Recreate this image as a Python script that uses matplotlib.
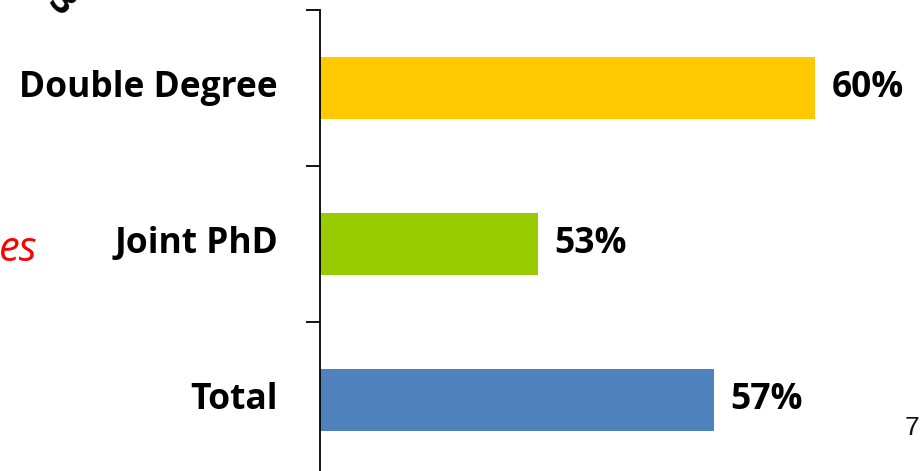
import matplotlib.pyplot as plt

# data, top to bottom as in the picture
categories = ['Double Degree', 'Joint PhD', 'Total']
values = [60.0, 53.0, 57.45]
labels = ['60%', '53%', '57%']
colors = ['#FFC800', '#99CC00', '#4F81BD']

plt.rcParams['font.family'] = ['Open Sans', 'DejaVu Sans']

W, H = 921, 471
fig = plt.figure(figsize=(W / 100, H / 100), dpi=100)
ax = fig.add_axes([320 / W, -7 / H, 601 / W, 468 / H])

ypos = list(range(len(categories)))[::-1]
ax.barh(ypos, values, height=0.4, color=colors, left=0)
ax.set_xlim(47.5, 47.5 + 601 / 39.6)
ax.set_ylim(-0.5, len(categories) - 0.5)

# value labels after the bars
for y, v, lab in zip(ypos, values, labels):
    ax.annotate(lab, (v, y), xytext=(12, 0), textcoords='offset points',
                va='center', ha='left', fontsize=25.5, fontweight='bold', color='black')

# category labels, ticks sit between categories
ax.set_yticks([y + 0.5 for y in ypos])
ax.set_yticklabels([])
ax.tick_params(axis='y', length=10, width=1.3, direction='out')
for y, c in zip(ypos, categories):
    ax.text(-42 / 601, y, c, transform=ax.get_yaxis_transform(), ha='right', va='center',
            fontsize=25.5, fontweight='bold', color='black')

ax.set_xticks([])
for s in ['top', 'right', 'bottom']:
    ax.spines[s].set_visible(False)
ax.spines['left'].set_linewidth(1.3)

# bits of the surrounding slide
fig.text(38 / W, 1 - 250 / H, 'es', color='red', fontsize=30, style='italic',
         ha='right', va='center')
fig.text(912 / W, 1 - 428 / H, '7', fontsize=19, ha='center', va='center',
         color='#111111', family='Liberation Sans')
fig.text(60 / W, 1 - 4 / H, '3', fontsize=26, fontweight='bold', rotation=-45,
         ha='center', va='center', clip_on=False)

fig.savefig('out.png', dpi=100)
